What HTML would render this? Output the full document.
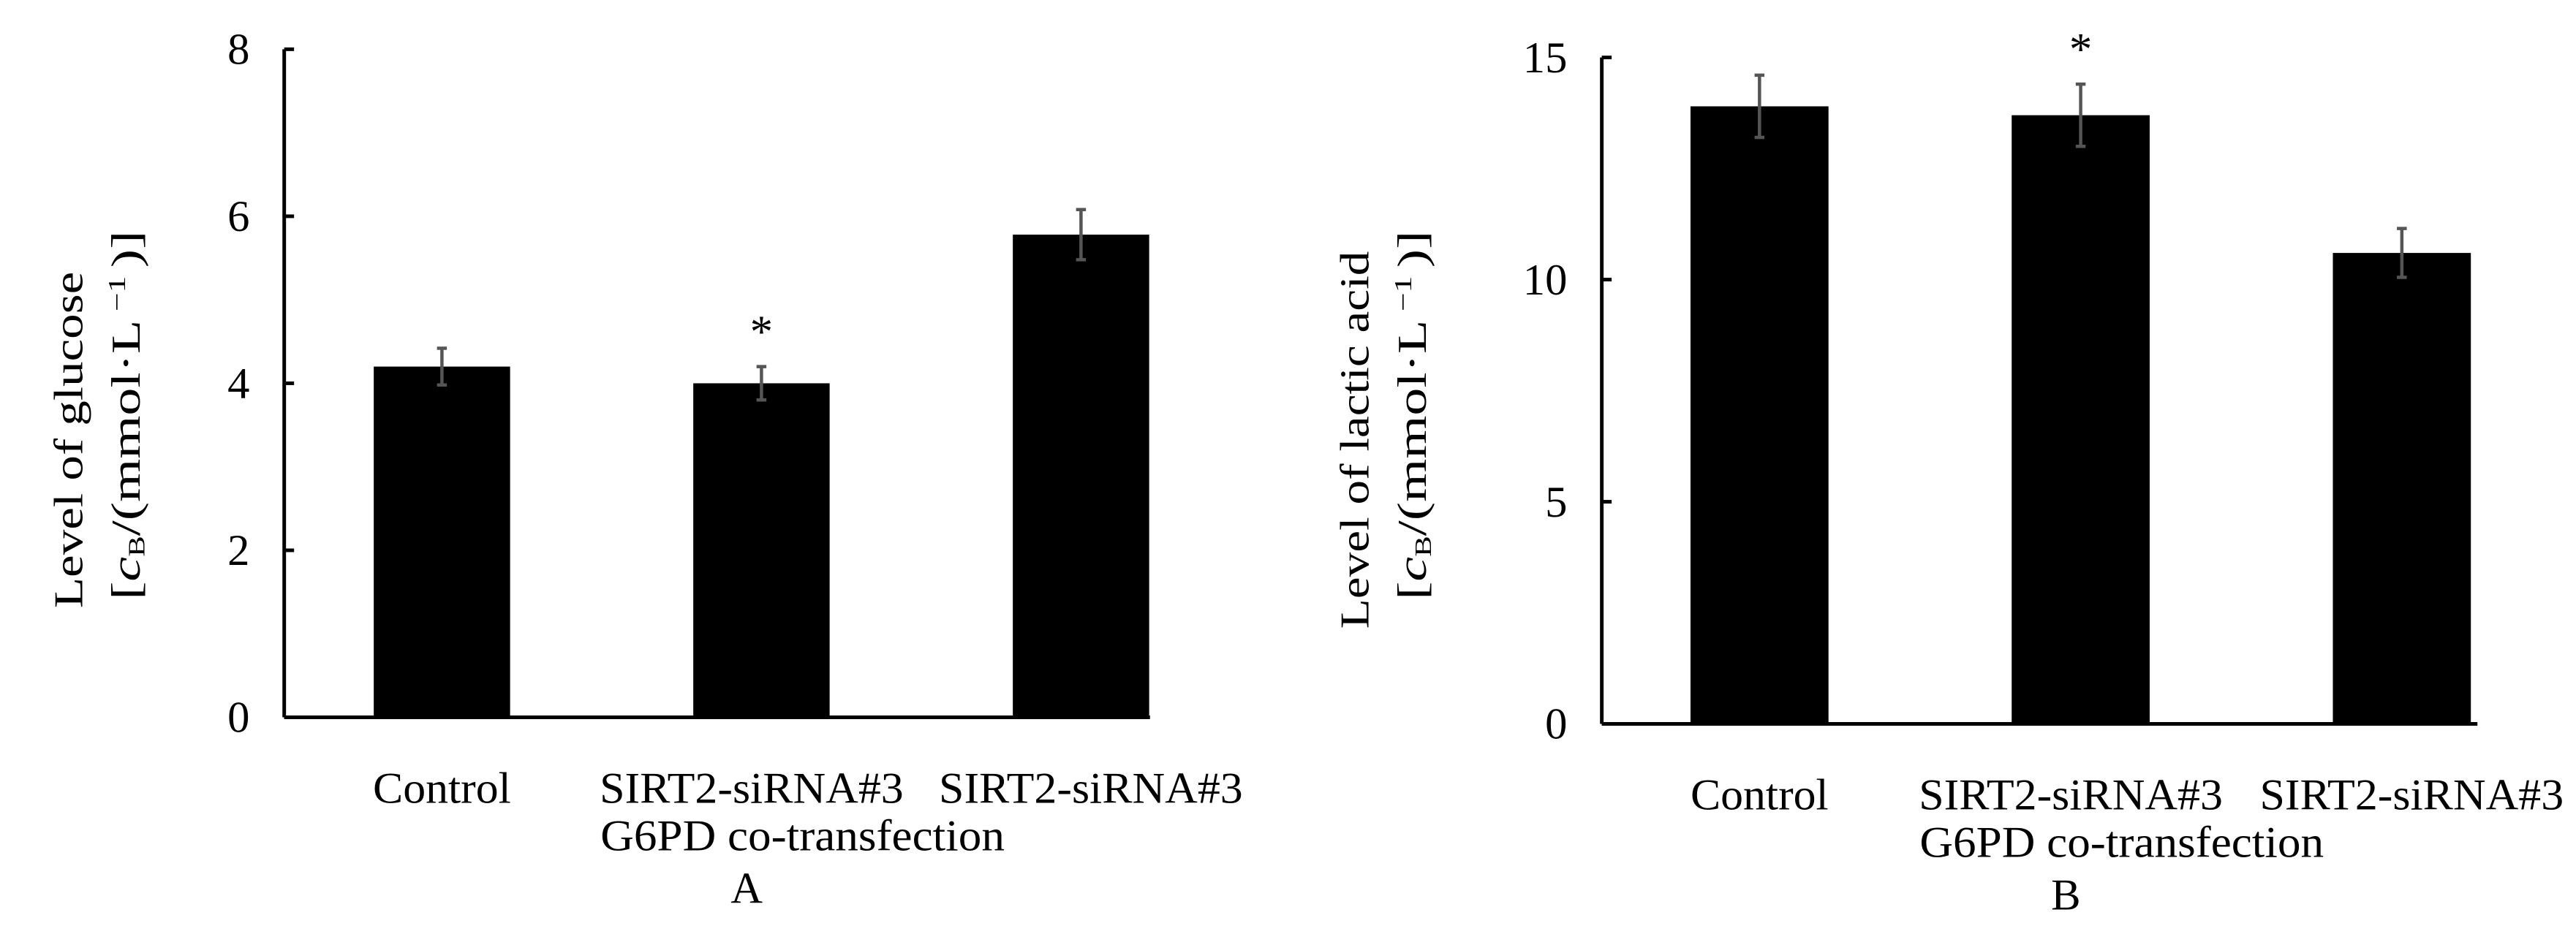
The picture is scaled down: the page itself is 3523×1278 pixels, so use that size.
<!DOCTYPE html>
<html><head><meta charset="utf-8"><style>
html,body{margin:0;padding:0;background:#fff;}
svg{display:block;}
text{font-family:"Liberation Serif","Noto Serif CJK SC",serif;fill:#000;}
</style></head><body>
<svg id="fig" width="3523" height="1278" viewBox="0 0 1568 569" preserveAspectRatio="none" xmlns="http://www.w3.org/2000/svg"></svg>
<script>
const categories = ["Control", "SIRT2-siRNA#3", "SIRT2-siRNA#3"];
const glucoseValues = [4.2, 4.0, 5.78];
const glucoseErrors = [0.22, 0.2, 0.3];
const glucoseTicks = [0, 2, 4, 6, 8];
const lacticValues = [13.9, 13.7, 10.6];
const lacticErrors = [0.7, 0.7, 0.55];
const lacticTicks = [0, 5, 10, 15];
const glucoseStars = ["", "*", ""];
const lacticStars = ["", "*", ""];

const NS = "http://www.w3.org/2000/svg";
const svg = document.getElementById('fig');
function mk(tag, attrs, parent){
  const e = document.createElementNS(NS, tag);
  for (const k in attrs) e.setAttribute(k, attrs[k]);
  (parent||svg).appendChild(e);
  return e;
}
const labelOffsets = [0, -6, 6];
function drawChart(cfg){
  const g = mk('g', {});
  
  
  const y = v => cfg.y0 - v / cfg.max * (cfg.y0 - cfg.yTop);
  const ya = mk('line', {x1:cfg.ax, y1:cfg.yTop, x2:cfg.ax, y2:cfg.y0, stroke:'#000','stroke-width':2.2}, g);
  
  
  const xa = mk('line', {x1:cfg.ax, y1:cfg.y0, x2:cfg.axEnd, y2:cfg.y0, stroke:'#000','stroke-width':2.2}, g);
  
  
  cfg.ticks.forEach(t => {
    const tl = mk('line', {x1:cfg.ax, y1:y(t), x2:cfg.ax+6, y2:y(t), stroke:'#000','stroke-width':2.2}, g);
    
    
    const tx = mk('text', {x:cfg.ax-21, y:y(t)+9, 'text-anchor':'end','font-size':27}, g);
    tx.textContent = t;
    
    
  });
  cfg.values.forEach((v, i) => {
    const cx = cfg.x0 + i * cfg.step;
    const b = mk('rect', {x:cx - cfg.bw/2, y:y(v), width:cfg.bw, height:cfg.y0 - y(v), fill:'#000'}, g);
    
    
    const e = cfg.errors[i];
    const eb = mk('path', {d:`M${cx},${y(v+e)}V${y(v-e)}M${cx-3},${y(v+e)}H${cx+3}M${cx-3},${y(v-e)}H${cx+3}`, stroke:'#555','stroke-width':2, fill:'none'}, g);
    
    
    if (cfg.stars[i]) {
      const s = mk('text', {x:cx, y:y(v+e)-12, 'text-anchor':'middle','font-size':28}, g);
      s.textContent = cfg.stars[i];
      
      
    }
    const lb = mk('text', {x:cx + labelOffsets[i], y:cfg.y0+52, 'text-anchor':'middle','font-size':27, lengthAdjust:'spacingAndGlyphs', textLength: categories[i].length > 8 ? 185 : 84}, g);
    lb.textContent = categories[i];
    
    
  });
  const co = mk('text', {x:cfg.x0 + cfg.step + 25, y:cfg.y0+81, 'text-anchor':'middle','font-size':27, textLength:246, lengthAdjust:'spacingAndGlyphs'}, g);
  co.textContent = "G6PD co-transfection";
  
  
  const pl = mk('text', {x:cfg.x0 + cfg.step - 9, y:cfg.y0+113, 'text-anchor':'middle','font-size':27}, g);
  pl.textContent = cfg.panel;
  
  
  const t1 = mk('text', {x:0, y:0, 'text-anchor':'middle','font-size':25, textLength:cfg.titleLen, lengthAdjust:'spacingAndGlyphs', transform:`translate(${cfg.titleX},${cfg.titleY}) rotate(-90)`}, g);
  t1.textContent = cfg.title;
  
  
  const t2 = mk('text', {x:0, y:0, 'text-anchor':'middle','font-size':25, textLength:225, lengthAdjust:'spacingAndGlyphs', transform:`translate(${cfg.titleX+35},${cfg.titleY-15}) rotate(-90)`}, g);
  t2.innerHTML = '[<tspan font-style="italic">c</tspan><tspan font-size="14" dy="3">B</tspan><tspan dy="-3">/(mmol·L</tspan><tspan font-size="15" dy="-9"> −1 </tspan><tspan dy="9">)]</tspan>';
  
  
}
drawChart({name:'glucose-chart', values:glucoseValues, errors:glucoseErrors, ticks:glucoseTicks, stars:glucoseStars, max:8,
  ax:173, axEnd:700, yTop:30, y0:437, x0:269, step:194.5, bw:83, panel:'A', title:'Level of glucose', titleLen:205, titleX:50, titleY:268});
drawChart({name:'lactic-acid-chart', values:lacticValues, errors:lacticErrors, ticks:lacticTicks, stars:lacticStars, max:15,
  ax:975, axEnd:1508, yTop:35, y0:441, x0:1071, step:195.5, bw:84, panel:'B', title:'Level of lactic acid', titleLen:230, titleX:833, titleY:268});
</script>
</body></html>
